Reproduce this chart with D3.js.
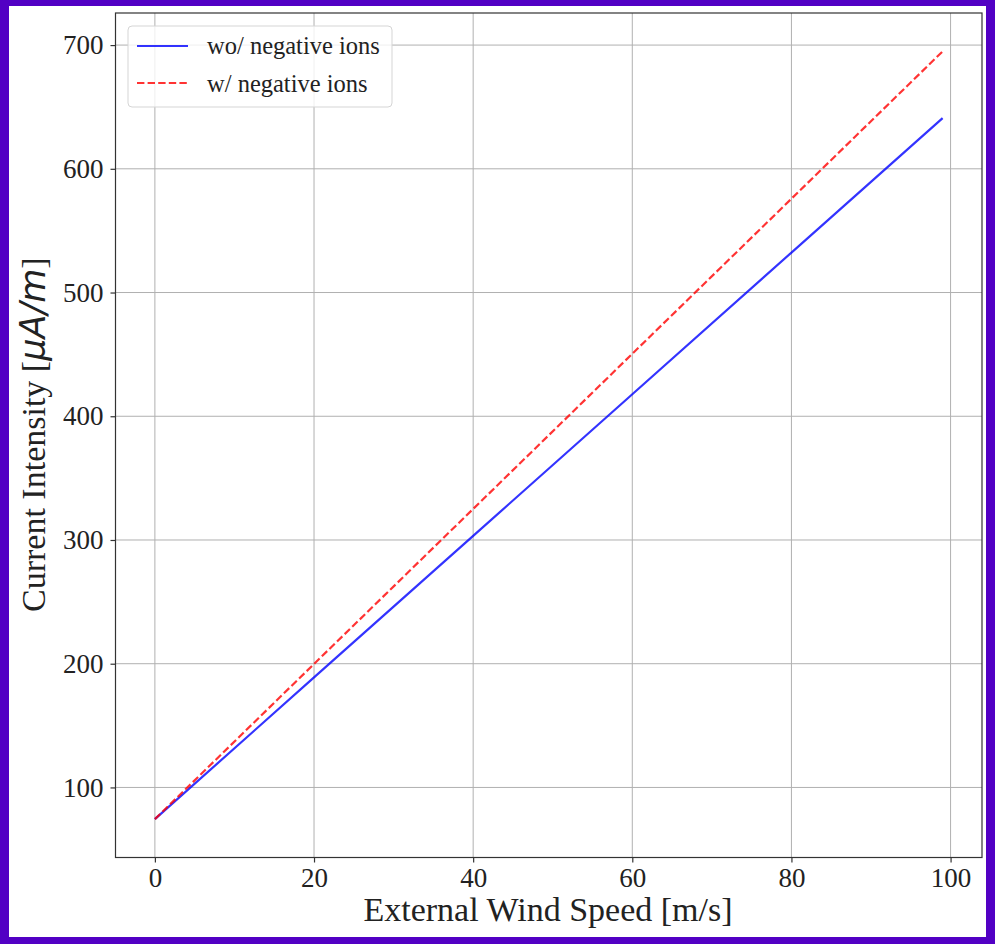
<!DOCTYPE html>
<html>
<head>
<meta charset="utf-8">
<script src="https://cdn.jsdelivr.net/npm/d3@7"></script>
<style>
  html, body { margin: 0; padding: 0; background: #fff; }
  svg { display: block; }
</style>
</head>
<body>
<script>
// Wind speed samples [m/s]
const windSpeed = [0, 20, 40, 60, 80, 99];
// Current intensity [µA/m] without negative ions
const currentNoIons = [74.4, 188.9, 303.3, 417.8, 532.3, 641.0];
// Current intensity [µA/m] with negative ions
const currentWithIons = [74.4, 199.8, 325.1, 450.5, 575.8, 694.9];

const xTicks = [0, 20, 40, 60, 80, 100];
const yTicks = [100, 200, 300, 400, 500, 600, 700];

const seriesNames = ["wo/ negative ions", "w/ negative ions"];

const W = 995, H = 944;
const plot = { left: 115.5, top: 13, right: 982, bottom: 857.5 };

const svg = d3.select("body").append("svg")
  .attr("width", W).attr("height", H);

// purple frame around the figure
svg.append("rect").attr("x", 0).attr("y", 0).attr("width", W).attr("height", H).attr("fill", "#5200c4");
svg.append("rect").attr("x", 9).attr("y", 6).attr("width", 986 - 9).attr("height", 937 - 6).attr("fill", "#ffffff");

const xExt = d3.extent(windSpeed);
const xPad = (xExt[1] - xExt[0]) * 0.05;
const allY = currentNoIons.concat(currentWithIons);
const yExt = d3.extent(allY);
const yPad = (yExt[1] - yExt[0]) * 0.05;

const x = d3.scaleLinear().domain([xExt[0] - xPad, xExt[1] + xPad]).range([plot.left, plot.right]);
const y = d3.scaleLinear().domain([yExt[0] - yPad, yExt[1] + yPad]).range([plot.bottom, plot.top]);

const serif = "'Liberation Serif', 'Times New Roman', serif";

// grid
const grid = svg.append("g");
grid.selectAll(".gx").data(xTicks).enter().append("line")
  .attr("x1", d => x(d)).attr("x2", d => x(d))
  .attr("y1", plot.top).attr("y2", plot.bottom)
  .attr("stroke", "#b0b0b0").attr("stroke-width", 1);
grid.selectAll(".gy").data(yTicks).enter().append("line")
  .attr("x1", plot.left).attr("x2", plot.right)
  .attr("y1", d => y(d)).attr("y2", d => y(d))
  .attr("stroke", "#b0b0b0").attr("stroke-width", 1);

// data lines
const line = d3.line().x(d => x(d[0])).y(d => y(d[1]));
svg.append("path")
  .datum(windSpeed.map((v, i) => [v, currentNoIons[i]]))
  .attr("d", line).attr("fill", "none")
  .attr("stroke", "#0000ff").attr("stroke-opacity", 0.8).attr("stroke-width", 2.2);
svg.append("path")
  .datum(windSpeed.map((v, i) => [v, currentWithIons[i]]))
  .attr("d", line).attr("fill", "none")
  .attr("stroke", "#ff0000").attr("stroke-opacity", 0.8).attr("stroke-width", 2.2)
  .attr("stroke-dasharray", "7.4,3.2");

// axes
const xAxis = d3.axisBottom(x).tickValues(xTicks).tickSize(5).tickPadding(5).tickFormat(d3.format("d"));
const yAxis = d3.axisLeft(y).tickValues(yTicks).tickSize(5).tickPadding(7).tickFormat(d3.format("d"));

const gx = svg.append("g").attr("transform", `translate(0,${plot.bottom})`).call(xAxis);
const gy = svg.append("g").attr("transform", `translate(${plot.left},0)`).call(yAxis);
[gx, gy].forEach(g => {
  g.select(".domain").remove();
  g.selectAll(".tick line").attr("stroke", "#333").attr("stroke-width", 1.2);
  g.selectAll(".tick text").attr("font-family", serif).attr("font-size", 27).attr("fill", "#222");
});

// frame
svg.append("rect")
  .attr("x", plot.left).attr("y", plot.top)
  .attr("width", plot.right - plot.left).attr("height", plot.bottom - plot.top)
  .attr("fill", "none").attr("stroke", "#333").attr("stroke-width", 1.2);

// axis labels
svg.append("text")
  .attr("x", 548).attr("y", 921)
  .attr("text-anchor", "middle")
  .attr("font-family", serif).attr("font-size", 34).attr("fill", "#222")
  .text("External Wind Speed [m/s]");

const yl = svg.append("text")
  .attr("transform", `translate(45,612) rotate(-90)`)
  .attr("text-anchor", "start")
  .attr("font-family", serif).attr("font-size", 34).attr("fill", "#222");
yl.append("tspan").text("Current Intensity [");
yl.append("tspan").attr("font-family", "'DejaVu Sans', sans-serif").attr("font-style", "italic").attr("font-size", 35).text("μA/m");
yl.append("tspan").text("]");

// legend
const lg = svg.append("g");
lg.append("rect")
  .attr("x", 128).attr("y", 26).attr("width", 264).attr("height", 81)
  .attr("rx", 4).attr("fill", "#ffffff").attr("fill-opacity", 0.8)
  .attr("stroke", "#d5d5d5").attr("stroke-width", 1);
const legendItems = [
  { name: seriesNames[0], color: "#0000ff", dash: null, cy: 46, base: 54 },
  { name: seriesNames[1], color: "#ff0000", dash: "7.4,3.2", cy: 83, base: 92 }
];
legendItems.forEach(it => {
  lg.append("line")
    .attr("x1", 137).attr("x2", 188).attr("y1", it.cy).attr("y2", it.cy)
    .attr("stroke", it.color).attr("stroke-opacity", 0.8).attr("stroke-width", 2.2)
    .attr("stroke-dasharray", it.dash);
  lg.append("text")
    .attr("x", 207).attr("y", it.base)
    .attr("font-family", serif).attr("font-size", 24.5).attr("fill", "#222")
    .text(it.name);
});
</script>
</body>
</html>
